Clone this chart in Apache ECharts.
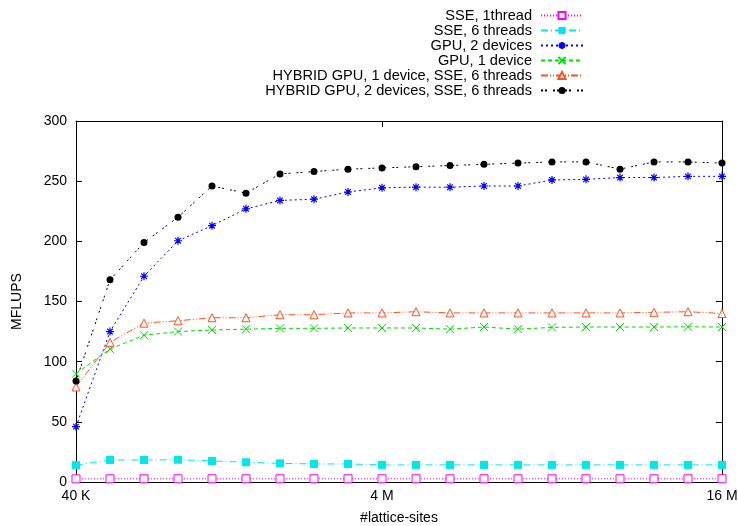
<!DOCTYPE html>
<html>
<head>
<meta charset="utf-8">
<script src="https://cdn.jsdelivr.net/npm/echarts@6/dist/echarts.min.js"></script>
<style>
  html, body { margin: 0; padding: 0; background: #fff; }
  #chart { width: 738px; height: 526px; }
</style>
</head>
<body>
<div id="chart"></div>
<script>
// lattice sites (L x L, L = 200 .. 4000)
var sites = [40000, 160000, 360000, 640000, 1000000, 1440000, 1960000, 2560000, 3240000, 4000000,
             4840000, 5760000, 6760000, 7840000, 9000000, 10240000, 11560000, 12960000, 14440000, 16000000];
var tickLabels = { 0: '40 K', 9: '4 M', 19: '16 M' };

var sse1 = [2.6, 2.7, 2.7, 2.7, 2.7, 2.7, 2.7, 2.7, 2.7, 2.7, 2.7, 2.7, 2.7, 2.7, 2.7, 2.7, 2.7, 2.7, 2.7, 2.7];
var sse6 = [14, 18.3, 18.3, 18.5, 17.5, 16.4, 15.5, 15, 15, 14.2, 14.2, 14.2, 14.2, 14.2, 14.2, 14.2, 14.2, 14.2, 14.2, 14.2];
var gpu2 = [46, 125, 171, 200.5, 213, 227, 234, 235, 241, 244.5, 245, 245, 246, 246, 251, 251.5, 253, 253, 254, 254];
var gpu1 = [90, 110.5, 122, 125, 126.3, 127, 127.7, 127.7, 128, 128, 128, 127, 128.8, 127, 128.5, 128.8, 128.8, 128.8, 129, 128.8];
var hyb1 = [79, 116, 132, 134, 136.5, 136.5, 139, 139, 140.5, 140.5, 141.5, 140.5, 140.5, 140.5, 140.5, 140.5, 140.5, 141, 141.5, 140];
var hyb2 = [84, 168, 199, 220, 246, 240, 256, 258, 260, 261, 262, 263, 264, 265, 266, 266, 260, 266, 266, 265];

var font = 'Liberation Sans, Arial, Helvetica, sans-serif';
var showTick = function (idx) { return tickLabels[idx] !== undefined; };

var chart = echarts.init(document.getElementById('chart'));

function mk(name, data, color, dash, symbol, size, fill, lw) {
  return {
    name: name,
    type: 'line',
    data: data,
    symbol: symbol,
    symbolSize: size,
    showAllSymbol: true,
    lineStyle: { color: color, width: 1, type: dash },
    itemStyle: { color: fill, borderColor: color, borderWidth: lw },
    emphasis: { disabled: true },
    animation: false
  };
}

var option = {
  backgroundColor: '#fff',
  animation: false,
  grid: { left: 76, right: 16, top: 121, bottom: 44, outerBoundsMode: 'none', containLabel: false },
  legend: {
    orient: 'vertical',
    right: 149,
    top: 3,
    align: 'right',
    itemWidth: 42,
    itemHeight: 9,
    itemGap: 0,
    textStyle: { fontFamily: font, fontSize: 14.6, lineHeight: 14.5, color: '#000', padding: [0, 4, 0, 0] },
    data: ['SSE, 1thread', 'SSE, 6 threads', 'GPU, 2 devices', 'GPU, 1 device',
           'HYBRID GPU, 1 device, SSE, 6 threads', 'HYBRID GPU, 2 devices, SSE, 6 threads']
  },
  xAxis: [{
    type: 'category',
    data: sites,
    boundaryGap: false,
    position: 'bottom',
    name: '#lattice-sites',
    nameLocation: 'middle',
    nameGap: 29,
    nameTextStyle: { fontFamily: font, fontSize: 14, color: '#000' },
    axisLine: { onZero: false, lineStyle: { color: '#000', width: 1 } },
    axisTick: { inside: true, length: 6, interval: showTick, lineStyle: { color: '#000' } },
    axisLabel: { interval: showTick, fontFamily: font, fontSize: 14, color: '#000', margin: 7,
      formatter: function (v, idx) { return tickLabels[idx] || ''; } },
    splitLine: { show: false }
  }, {
    type: 'category',
    data: sites,
    boundaryGap: false,
    position: 'top',
    axisLine: { onZero: false, lineStyle: { color: '#000', width: 1 } },
    axisTick: { inside: true, length: 6, interval: showTick, lineStyle: { color: '#000' } },
    axisLabel: { show: false },
    splitLine: { show: false }
  }],
  yAxis: [{
    type: 'value',
    min: 0, max: 300, interval: 50,
    position: 'left',
    name: 'MFLUPS',
    nameLocation: 'middle',
    nameGap: 52,
    nameRotate: 90,
    nameTextStyle: { fontFamily: font, fontSize: 14, color: '#000' },
    axisLine: { show: true, onZero: false, lineStyle: { color: '#000', width: 1 } },
    axisTick: { show: true, inside: true, length: 6, lineStyle: { color: '#000' } },
    axisLabel: { fontFamily: font, fontSize: 14, color: '#000', margin: 9 },
    splitLine: { show: false }
  }, {
    type: 'value',
    min: 0, max: 300, interval: 50,
    position: 'right',
    axisLine: { show: true, onZero: false, lineStyle: { color: '#000', width: 1 } },
    axisTick: { show: true, inside: true, length: 6, lineStyle: { color: '#000' } },
    axisLabel: { show: false },
    splitLine: { show: false }
  }],
  series: [
    mk('SSE, 1thread', sse1, '#ff00ff', [1, 2], 'rect', 8, '#fff', 1),
    mk('SSE, 6 threads', sse6, '#00e8e8', [7, 3, 1, 3], 'rect', 8, '#00e8e8', 0),
    mk('GPU, 2 devices', gpu2, '#0000ff', [2, 3], 'path://M0 5L10 5M5 0L5 10M1.5 1.5L8.5 8.5M8.5 1.5L1.5 8.5', 8, 'rgba(0,0,0,0)', 1.2),
    mk('GPU, 1 device', gpu1, '#00e000', [4, 3], 'path://M0 0L10 10M10 0L0 10', 8, 'rgba(0,0,0,0)', 1),
    mk('HYBRID GPU, 1 device, SSE, 6 threads', hyb1, '#ff5020', [7, 2, 1, 2, 1, 2], 'triangle', 8, '#fff', 1),
    mk('HYBRID GPU, 2 devices, SSE, 6 threads', hyb2, '#000', [2, 2, 2, 6], 'circle', 7, '#000', 0)
  ]
};

chart.setOption(option);
</script>
</body>
</html>
